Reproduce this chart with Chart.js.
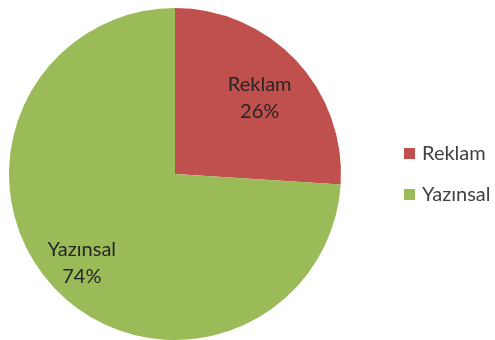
<!DOCTYPE html>
<html>
<head>
<meta charset="utf-8">
<script src="https://cdn.jsdelivr.net/npm/chart.js@4/dist/chart.umd.min.js"></script>
<style>
  html, body { margin: 0; padding: 0; background: #fff; }
  #wrap { width: 495px; height: 340px; }
</style>
</head>
<body>
<div id="wrap"><canvas id="myChart" width="495" height="340"></canvas></div>
<script>
// data
const kategoriler = ['Reklam', 'Yazınsal'];
const yuzdeler = [26, 74];
const renkler = ['#C0504D', '#9BBB59'];

const yaziTipi = 'Lato, "Open Sans", sans-serif';

// slice labels, drawn at a fraction of the radius along the slice middle
const etiketler = {
  id: 'etiketler',
  afterDatasetsDraw(chart) {
    const ctx = chart.ctx;
    const meta = chart.getDatasetMeta(0);
    const oran = [0.70, 0.77];
    ctx.save();
    ctx.font = '20px ' + yaziTipi;
    ctx.fillStyle = '#262626';
    ctx.textAlign = 'center';
    ctx.textBaseline = 'middle';
    meta.data.forEach(function (arc, i) {
      const p = arc.getProps(['x', 'y', 'startAngle', 'endAngle', 'outerRadius'], true);
      const aci = (p.startAngle + p.endAngle) / 2;
      const r = p.outerRadius * oran[i];
      const x = p.x + Math.cos(aci) * r;
      const y = p.y + Math.sin(aci) * r + (i === 0 ? 3 : 1);
      ctx.fillText(kategoriler[i], x, y - 13);
      ctx.fillText(yuzdeler[i] + '%', x, y + 14);
    });
    ctx.restore();
  }
};

// legend on the right
const lejant = {
  id: 'lejant',
  afterDraw(chart) {
    const ctx = chart.ctx;
    ctx.save();
    ctx.font = '20px ' + yaziTipi;
    ctx.textBaseline = 'middle';
    kategoriler.forEach(function (ad, i) {
      const y = 154 + i * 41;
      ctx.fillStyle = renkler[i];
      ctx.fillRect(404, y - 6, 11, 11);
      ctx.fillStyle = '#404040';
      ctx.fillText(ad, 422, y);
    });
    ctx.restore();
  }
};

const ctx = document.getElementById('myChart').getContext('2d');
const myChart = new Chart(ctx, {
  type: 'pie',
  data: {
    labels: kategoriler,
    datasets: [{
      data: yuzdeler,
      backgroundColor: renkler,
      borderWidth: 0
    }]
  },
  options: {
    responsive: false,
    animation: false,
    layout: { padding: { left: 9, right: 154, top: 8, bottom: 0 } },
    plugins: {
      legend: { display: false },
      tooltip: { enabled: false }
    }
  },
  plugins: [etiketler, lejant]
});
</script>
</body>
</html>
